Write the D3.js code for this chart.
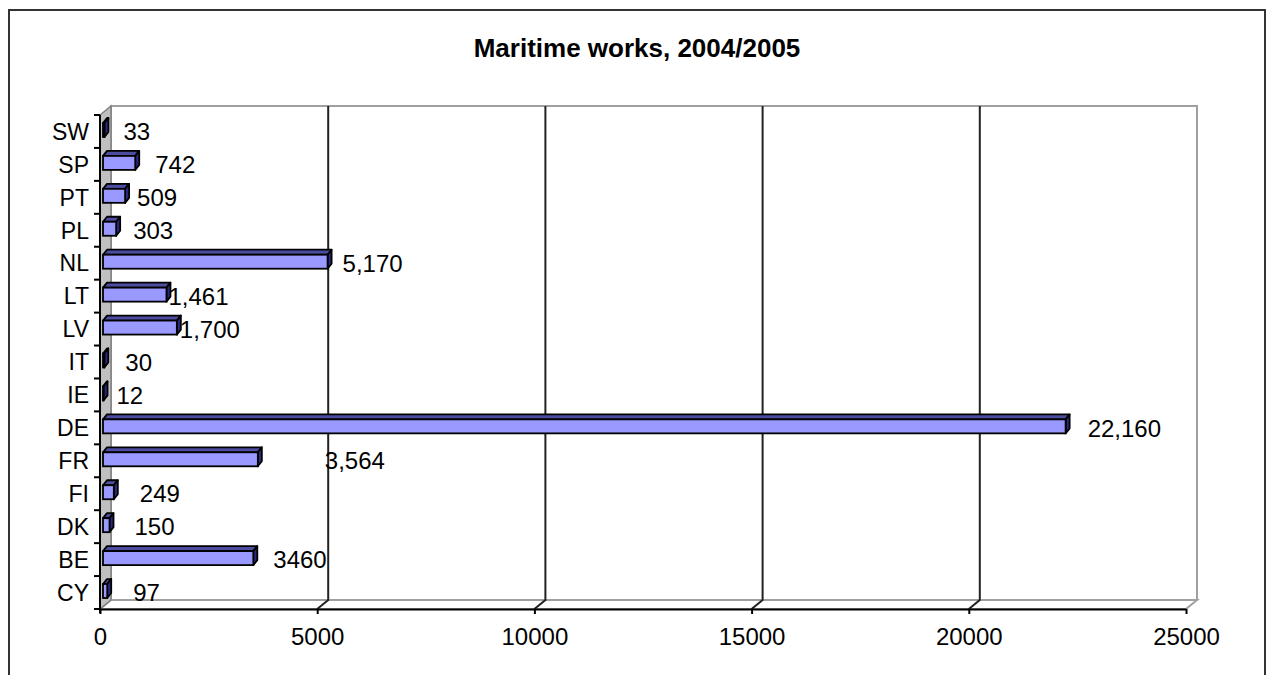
<!DOCTYPE html>
<html>
<head>
<meta charset="utf-8">
<script src="https://cdn.jsdelivr.net/npm/d3@7"></script>
<style>
  body { margin: 0; background: #fff; }
  text { font-family: "Liberation Sans", Arial, sans-serif; fill: #000; }
</style>
</head>
<body>
<div id="chart"></div>
<script>
// Data, top to bottom as in the chart
var countries = ["SW", "SP", "PT", "PL", "NL", "LT", "LV", "IT", "IE", "DE", "FR", "FI", "DK", "BE", "CY"];
var works = [33, 742, 509, 303, 5170, 1461, 1700, 30, 12, 22160, 3564, 249, 150, 3460, 97];
var valueLabels = ["33", "742", "509", "303", "5,170", "1,461", "1,700", "30", "12", "22,160", "3,564", "249", "150", "3460", "97"];
var xTicks = [0, 5000, 10000, 15000, 20000, 25000];

// gap between bar end and its label (Excel placed them unevenly)
var labelGap = [19, 20, 12, 17, 15, 2, 3, 21, 13, 22, 67, 26, 25, 20, 26];

var svgWidth = 1268;
var svgHeight = 675;

// front plane of the 3D plot
var plot = { left: 100, right: 1186, top: 115, bottom: 609 };
// depth offset of the back wall
var depth = { dx: 11, dy: -9 };
// bar depth
var bd = { dx: 4, dy: -5 };

var svg = d3.select("#chart")
  .append("svg")
  .attr("width", svgWidth)
  .attr("height", svgHeight);

// outer chart border
svg.append("rect")
  .attr("x", 9)
  .attr("y", 10)
  .attr("width", 1256)
  .attr("height", 680)
  .attr("fill", "#fff")
  .attr("stroke", "#333")
  .attr("stroke-width", 2);

// title
svg.append("text")
  .attr("x", 637)
  .attr("y", 57)
  .attr("text-anchor", "middle")
  .style("font-size", "26px")
  .style("font-weight", "bold")
  .text("Maritime works, 2004/2005");

var x = d3.scaleLinear()
  .domain([0, 25000])
  .range([plot.left, plot.right]);

var y = d3.scaleBand()
  .domain(countries)
  .range([plot.top, plot.bottom]);

// back wall
svg.append("rect")
  .attr("x", plot.left + depth.dx)
  .attr("y", plot.top + depth.dy)
  .attr("width", plot.right - plot.left)
  .attr("height", plot.bottom - plot.top)
  .attr("fill", "#fff")
  .attr("stroke", "#a0a0a0")
  .attr("stroke-width", 2);

// floor
svg.append("path")
  .attr("d", `M${plot.left},${plot.bottom} L${plot.right},${plot.bottom} L${plot.right + depth.dx},${plot.bottom + depth.dy} L${plot.left + depth.dx},${plot.bottom + depth.dy} Z`)
  .attr("fill", "#fff")
  .attr("stroke", "#a0a0a0")
  .attr("stroke-width", 2);

// left side wall
svg.append("path")
  .attr("d", `M${plot.left},${plot.top} L${plot.left + depth.dx},${plot.top + depth.dy} L${plot.left + depth.dx},${plot.bottom + depth.dy} L${plot.left},${plot.bottom} Z`)
  .attr("fill", "#c0c0c0")
  .attr("stroke", "#808080")
  .attr("stroke-width", 1.5);

// gridlines on back wall and floor
var grid = svg.append("g");
xTicks.slice(1, -1).forEach(function (t) {
  grid.append("path")
    .attr("d", `M${x(t) + depth.dx},${plot.top + depth.dy} L${x(t) + depth.dx},${plot.bottom + depth.dy} L${x(t)},${plot.bottom}`)
    .attr("fill", "none")
    .attr("stroke", "#222")
    .attr("stroke-width", 2);
});

// bars
var bars = svg.append("g").selectAll("g")
  .data(works)
  .enter()
  .append("g");

var x0 = x(0) + 3;
var barH = 14;

bars.each(function (d, i) {
  var g = d3.select(this);
  var cy = y(countries[i]) + y.bandwidth() / 2;
  var y0 = cy - 8.5;
  var x1 = x(d) + 3;
  // top face
  g.append("path")
    .attr("d", `M${x0},${y0} L${x0 + bd.dx},${y0 + bd.dy} L${x1 + bd.dx},${y0 + bd.dy} L${x1},${y0} Z`)
    .attr("fill", "#4c4ca0")
    .attr("stroke", "#000")
    .attr("stroke-width", 1.8)
    .attr("stroke-linejoin", "round");
  // side face
  g.append("path")
    .attr("d", `M${x1},${y0} L${x1 + bd.dx},${y0 + bd.dy} L${x1 + bd.dx},${y0 + bd.dy + barH} L${x1},${y0 + barH} Z`)
    .attr("fill", "#2a2a80")
    .attr("stroke", "#000")
    .attr("stroke-width", 1.8)
    .attr("stroke-linejoin", "round");
  // front face
  g.append("rect")
    .attr("x", x0)
    .attr("y", y0)
    .attr("width", Math.max(x1 - x0, 0.5))
    .attr("height", barH)
    .attr("fill", "#9999ff")
    .attr("stroke", "#000")
    .attr("stroke-width", 1.8);
});

// value labels
svg.append("g").selectAll("text")
  .data(works)
  .enter()
  .append("text")
  .attr("x", (d, i) => x(d) + 3 + labelGap[i])
  .attr("y", (d, i) => y(countries[i]) + y.bandwidth() / 2)
  .attr("dy", "0.36em")
  .style("font-size", "24px")
  .text((d, i) => valueLabels[i]);

// x axis (front)
var bottomAxis = d3.axisBottom(x)
  .tickValues(xTicks)
  .tickFormat(d3.format("d"))
  .tickSize(5)
  .tickSizeOuter(0)
  .tickPadding(14);

var xAxis = svg.append("g")
  .attr("transform", `translate(0, ${plot.bottom})`)
  .call(bottomAxis);
xAxis.select(".domain").attr("stroke", "#000").attr("stroke-width", 2);
xAxis.selectAll(".tick line").attr("stroke", "#000").attr("stroke-width", 2);
xAxis.selectAll("text")
  .style("font-size", "24px")
  .style("font-family", "'Liberation Sans', Arial, sans-serif")
  .attr("fill", "#000");

// y axis (front left)
svg.append("line")
  .attr("x1", plot.left).attr("x2", plot.left)
  .attr("y1", plot.top).attr("y2", plot.bottom + 4)
  .attr("stroke", "#000")
  .attr("stroke-width", 2);

svg.append("g").selectAll("line")
  .data(d3.range(countries.length + 1))
  .enter()
  .append("line")
  .attr("x1", plot.left - 6)
  .attr("x2", plot.left)
  .attr("y1", i => plot.top + i * y.step())
  .attr("y2", i => plot.top + i * y.step())
  .attr("stroke", "#000")
  .attr("stroke-width", 2);

svg.append("g").selectAll("text")
  .data(countries)
  .enter()
  .append("text")
  .attr("x", 89)
  .attr("y", d => y(d) + y.bandwidth() / 2)
  .attr("dy", "0.36em")
  .attr("text-anchor", "end")
  .style("font-size", "23px")
  .text(d => d);
</script>
</body>
</html>
